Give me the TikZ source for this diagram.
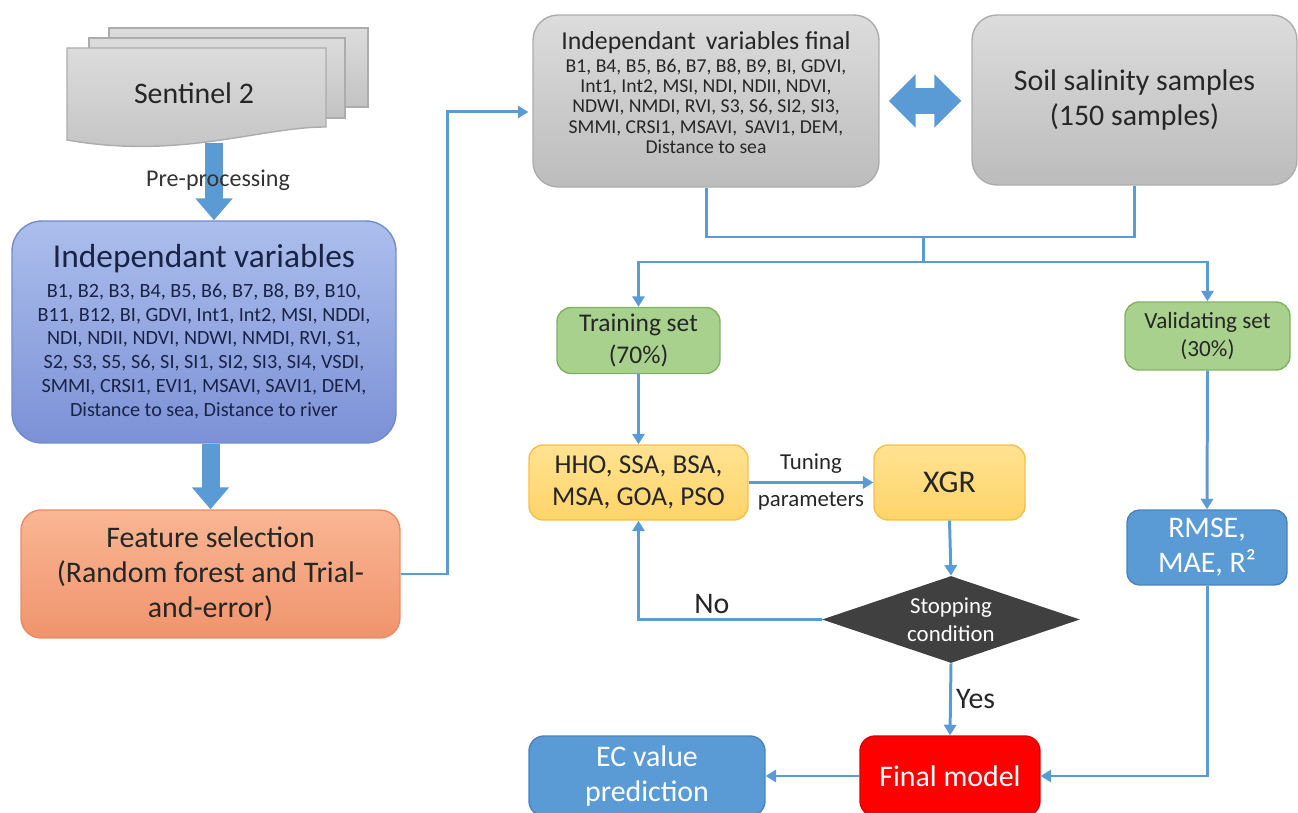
\documentclass[tikz,border=0pt]{standalone}
\usepackage{fontspec}
\setmainfont{Carlito}
\usetikzlibrary{positioning,arrows.meta,shapes.geometric,calc}
\definecolor{flowblue}{RGB}{91,155,213}
\definecolor{flowblueline}{RGB}{70,130,190}
\definecolor{indtop}{RGB}{172,190,236}
\definecolor{indbot}{RGB}{124,145,214}
\definecolor{indline}{RGB}{112,140,205}
\definecolor{indtext}{RGB}{25,35,70}
\definecolor{feattop}{RGB}{249,182,148}
\definecolor{featbot}{RGB}{240,148,108}
\definecolor{featline}{RGB}{232,140,100}
\definecolor{graytop}{RGB}{220,220,220}
\definecolor{graybot}{RGB}{188,188,188}
\definecolor{grayline}{RGB}{172,172,172}
\definecolor{greenfill}{RGB}{169,209,142}
\definecolor{greenline}{RGB}{128,178,98}
\definecolor{yellowtop}{RGB}{255,226,145}
\definecolor{yellowbot}{RGB}{255,212,105}
\definecolor{yellowline}{RGB}{242,192,75}
\definecolor{darkdiamond}{RGB}{64,64,64}

\begin{document}
\begin{tikzpicture}[x=0.02cm,y=-0.02cm,
    box/.style={rounded corners=8pt, align=center, inner sep=2pt, line width=0.8pt},
    graybox/.style={box, draw=grayline, top color=graytop, bottom color=graybot, text=black!85},
    greenbox/.style={box, draw=greenline, fill=greenfill, text=black!85,
      minimum height=1.32cm, font=\fontsize{14.5}{18}\selectfont},
    yellowbox/.style={box, draw=yellowline, top color=yellowtop, bottom color=yellowbot,
      text=black!85, minimum height=1.5cm},
    bluebox/.style={box, draw=flowblueline, fill=flowblue, text=white,
      font=\fontsize{17}{20}\selectfont},
    link/.style={flowblue, line width=1.7pt},
    arr/.style={link, -{Triangle[width=7pt,length=6pt]}},
    fatarrow/.style={flowblue, line width=0.36cm, -{Triangle[width=0.72cm,length=0.44cm]}},
    page/.style={draw=grayline, line width=0.8pt, top color=graytop, bottom color=graybot!90}]
  \useasboundingbox (0,0) rectangle (1298,813);

  % Sentinel 2 stack
  \draw[page] (109,28) rectangle (368,107);
  \draw[page] (89,38) rectangle (345,118);
  \draw[page] (67,48) -- (326,48) -- (326,127)
    .. controls (260,127) and (180,160) .. (67,140) -- cycle;
  \node[font=\fontsize{17}{20}\selectfont, text=black!85] (sentinel) at (194,93) {Sentinel 2};
  \coordinate (s2base) at (214,143);

  % left column
  \node[box, draw=indline, top color=indtop, bottom color=indbot, text=indtext,
        rounded corners=0.6cm, minimum width=7.68cm, minimum height=4.44cm,
        font=\fontsize{11.5}{13.6}\selectfont] (indep) at (204,332)
    {{\fontsize{19}{22}\selectfont Independant variables}\\[3pt]
     B1, B2, B3, B4, B5, B6, B7, B8, B9, B10,\\
     B11, B12, BI, GDVI, Int1, Int2, MSI, NDDI,\\
     NDI, NDII, NDVI, NDWI, NMDI, RVI, S1,\\
     S2, S3, S5, S6, SI, SI1, SI2, SI3, SI4, VSDI,\\
     SMMI, CRSI1, EVI1, MSAVI, SAVI1, DEM,\\
     Distance to sea, Distance to river};
  \node[box, draw=featline, top color=feattop, bottom color=featbot, text=black!85,
        rounded corners=0.4cm, minimum width=7.58cm, minimum height=2.56cm,
        font=\fontsize{17}{19.8}\selectfont] (feat) at (210.5,574)
    {Feature selection\\(Random forest and Trial-\\and-error)};

  \draw[fatarrow] (s2base) -- (s2base |- indep.north);
  \node[font=\fontsize{13.7}{16}\selectfont, text=black!80] (prelabel) at (218,180) {Pre-processing};
  \draw[fatarrow] (indep.south -| feat.north) -- (feat.north);

  % top row
  \node[graybox, rounded corners=0.5cm, minimum width=6.92cm, minimum height=3.44cm,
        text depth=0.35cm, font=\fontsize{11.2}{11.4}\selectfont] (final) at (706,101)
    {{\fontsize{14.7}{16}\selectfont Independant\, variables final}\\[2pt]
     B1, B4, B5, B6, B7, B8, B9, BI, GDVI,\\
     Int1, Int2, MSI, NDI, NDII, NDVI,\\
     NDWI, NMDI, RVI, S3, S6, SI2, SI3,\\
     SMMI, CRSI1, MSAVI,\, SAVI1, DEM,\\
     Distance to sea};
  \node[graybox, rounded corners=0.5cm, minimum width=6.5cm, minimum height=3.4cm,
        font=\fontsize{17}{20}\selectfont] (soil) at (1134.5,100)
    {Soil salinity samples\\(150 samples)};
  \draw[flowblue, line width=0.52cm, shorten <=0.18cm, shorten >=0.2cm,
        {Triangle[width=1.04cm,length=0.54cm]}-{Triangle[width=1.04cm,length=0.54cm]}]
    (final.east) -- (soil.west |- final.east);

  % split into training / validation
  \coordinate (join) at (923,237);
  \coordinate (split) at (923,262);
  \draw[link] (final.south) |- (join) -| (soil.south);
  \draw[link] (join) -- (split);
  \node[greenbox, minimum width=3.26cm] (train) at (638.5,340.5) {Training set\\(70\%)};
  \node[greenbox, minimum width=3.3cm, minimum height=1.36cm,
        font=\fontsize{13.2}{16}\selectfont] (valid) at (1207.5,336) {Validating set\\(30\%)};
  \draw[arr] (split) -| (train.north);
  \draw[arr] (split) -| (valid.north);

  % optimisation loop
  \node[yellowbox, minimum width=4.38cm, font=\fontsize{15.5}{18}\selectfont] (hho) at (638.5,482.5)
    {HHO, SSA, BSA,\\MSA, GOA, PSO};
  \node[yellowbox, minimum width=3.02cm, font=\fontsize{18}{20}\selectfont] (xgr) at (949.5,482.5) {XGR};
  \node[diamond, fill=darkdiamond, text=white, inner sep=0pt, aspect=2.96,
        minimum width=5.16cm, minimum height=1.74cm, align=center,
        font=\fontsize{13}{16}\selectfont] (stop) at (951,619.5) {Stopping\\condition};
  \node[box, draw=red!85!black, fill=red, text=white, rounded corners=0.3cm,
        minimum width=3.6cm, minimum height=1.6cm, font=\fontsize{17}{20}\selectfont] (fin) at (950,776)
    {Final model};
  \node[bluebox, rounded corners=0.3cm, minimum width=4.72cm, minimum height=1.6cm] (ec) at (647,776)
    {EC value\\prediction};
  \node[bluebox, rounded corners=0.25cm, minimum width=3.2cm, minimum height=1.5cm] (rmse) at (1207,547.5)
    {RMSE,\\MAE, R²};

  \draw[arr] (train.south) -- (hho.north);
  \draw[arr] (hho.east) -- node[above=1pt, font=\fontsize{13}{15}\selectfont, text=black!85] {Tuning}
    node[below=1pt, font=\fontsize{13}{15}\selectfont, text=black!85] {parameters} (xgr.west);
  \draw[arr] (xgr.south) -- (stop.north);
  \draw[arr] (stop.west) -| node[pos=0.3, above=-1pt, font=\fontsize{17}{20}\selectfont, text=black!85] {No}
    (hho.south);
  \draw[arr] (stop.south) -- node[right=-1pt, font=\fontsize{17}{20}\selectfont, text=black!85] {Yes} (fin.north);
  \draw[arr] (fin.west) -- (ec.east);
  \draw[arr] (valid.south) -- (rmse.north);
  \draw[arr] (rmse.south) |- (fin.east);

  % feature selection output
  \draw[arr] (feat.east) -- ++(47,0) |- ($(final.west)+(-4,11)$);
\end{tikzpicture}
\end{document}
